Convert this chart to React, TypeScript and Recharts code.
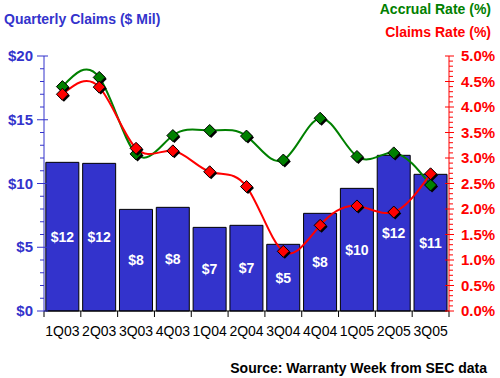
import React from 'react';
import {
  ComposedChart,
  Bar,
  Line,
  XAxis,
  YAxis,
  LabelList,
} from 'recharts';

const quarters = ['1Q03', '2Q03', '3Q03', '4Q03', '1Q04', '2Q04', '3Q04', '4Q04', '1Q05', '2Q05', '3Q05'];
const claimsMil = [11.66, 11.58, 7.97, 8.13, 6.56, 6.72, 5.23, 7.66, 9.62, 12.21, 10.72];
const claimsRate = [4.25, 4.39, 3.19, 3.14, 2.73, 2.44, 1.17, 1.68, 2.06, 1.94, 2.69];
const accrualRate = [4.4, 4.58, 3.08, 3.44, 3.54, 3.43, 2.96, 3.78, 3.03, 3.1, 2.47];

const leftTicks = [0, 1, 2, 3, 4, 5, 6, 7, 8, 9, 10, 11, 12, 13, 14, 15, 16, 17, 18, 19, 20];
const rightTicks = Array.from({ length: 51 }, (_, i) => i / 10);

const BLUE = '#3333CC';
const GREEN = '#008000';
const RED = '#FF0000';
const SANS = 'Liberation Sans, Arial, sans-serif';
const NARROW = 'Liberation Sans Narrow, Arial Narrow, Liberation Sans, sans-serif';

const W = 500;
const H = 378;
const LEFT_W = 44;
const RIGHT_W = 51;
const BAND = (W - LEFT_W - RIGHT_W) / quarters.length;

const data = quarters.map((q, i) => ({
  q,
  claims: claimsMil[i],
  claimsRate: claimsRate[i],
  accrual: accrualRate[i],
}));

const LeftTick = ({ x, y, payload }: any) => {
  const v = payload.value;
  const major = v % 5 === 0;
  return (
    <g>
      <line x1={major ? x - 7 : x - 4} x2={major ? x + 4 : x} y1={y} y2={y} stroke={BLUE} />
      {major && (
        <text x={x - 11} y={y} dy={5} textAnchor="end" fill={BLUE} fontSize={15} fontWeight="bold" fontFamily={SANS}>
          ${v}
        </text>
      )}
    </g>
  );
};

const RightTick = ({ x, y, payload }: any) => {
  const v = payload.value;
  const major = Math.round(v * 10) % 5 === 0;
  return (
    <g>
      <line x1={major ? x - 4 : x} x2={major ? x + 5 : x + 4} y1={y} y2={y} stroke={RED} />
      {major && (
        <text x={x + 12} y={y} dy={5} textAnchor="start" fill={RED} fontSize={15} fontWeight="bold" fontFamily={SANS}>
          {v.toFixed(1)}%
        </text>
      )}
    </g>
  );
};

const XTick = ({ x, y, payload, index }: any) => {
  const left = x - BAND / 2;
  const right = x + BAND / 2;
  return (
    <g>
      <line x1={left} x2={left} y1={y} y2={y + 6} stroke="#000" />
      {index === quarters.length - 1 && <line x1={right} x2={right} y1={y} y2={y + 6} stroke="#000" />}
      <text x={x} y={y + 25} textAnchor="middle" fill="#000" fontSize={14} fontFamily={NARROW}>
        {payload.value}
      </text>
    </g>
  );
};

// diamond marker with a little black drop shadow
const diamond = (fill: string) => (props: any) => {
  const { cx, cy, index } = props;
  if (cx == null || cy == null) return <g key={index} />;
  const r = 6;
  const pts = (dx: number, dy: number) =>
    `${cx + dx},${cy + dy - r} ${cx + dx + r},${cy + dy} ${cx + dx},${cy + dy + r} ${cx + dx - r},${cy + dy}`;
  return (
    <g key={index}>
      <polygon points={pts(1.5, 1.5)} fill="#000" />
      <polygon points={pts(0, 0)} fill={fill} stroke="#000" strokeWidth={1} />
    </g>
  );
};

export default function App() {
  return (
    <div style={{ position: 'absolute', left: 0, top: 0, width: W, height: H, background: '#fff' }}>
      <div
        style={{
          position: 'absolute', left: 4, top: 11, color: BLUE, fontFamily: SANS,
          fontWeight: 'bold', fontSize: 14, lineHeight: '16px', whiteSpace: 'nowrap',
        }}
      >
        Quarterly Claims ($ Mil)
      </div>
      <div
        style={{
          position: 'absolute', right: 9, top: 1, color: GREEN, fontFamily: SANS,
          fontWeight: 'bold', fontSize: 14, lineHeight: '16px', whiteSpace: 'nowrap',
        }}
      >
        Accrual Rate (%)
      </div>
      <div
        style={{
          position: 'absolute', right: 9, top: 24, color: RED, fontFamily: SANS,
          fontWeight: 'bold', fontSize: 14, lineHeight: '16px', whiteSpace: 'nowrap',
        }}
      >
        Claims Rate (%)
      </div>
      <div
        style={{
          position: 'absolute', right: 13, top: 360, color: '#000', fontFamily: SANS,
          fontWeight: 'bold', fontSize: 14, lineHeight: '16px', whiteSpace: 'nowrap',
        }}
      >
        Source: Warranty Week from SEC data
      </div>
      <ComposedChart
        width={W}
        height={H}
        data={data}
        margin={{ top: 56, right: 0, bottom: 37, left: 0 }}
        barCategoryGap="5%"
      >
        <XAxis
          dataKey="q"
          height={30}
          interval={0}
          tickSize={0}
          tickMargin={0}
          tickLine={false}
          axisLine={{ stroke: '#000' }}
          tick={(p: any) => <XTick {...p} />}
        />
        <YAxis
          yAxisId="l"
          width={LEFT_W}
          domain={[0, 20]}
          ticks={leftTicks}
          interval={0}
          tickSize={0}
          tickMargin={0}
          tickLine={false}
          axisLine={{ stroke: BLUE }}
          tick={(p: any) => <LeftTick {...p} />}
        />
        <YAxis
          yAxisId="r"
          orientation="right"
          width={RIGHT_W}
          domain={[0, 5]}
          ticks={rightTicks}
          interval={0}
          tickSize={0}
          tickMargin={0}
          tickLine={false}
          axisLine={{ stroke: RED }}
          tick={(p: any) => <RightTick {...p} />}
        />
        <Bar yAxisId="l" dataKey="claims" fill={BLUE} stroke="#000" strokeWidth={1} isAnimationActive={false}>
          <LabelList
            dataKey="claims"
            position="center"
            fill="#fff"
            fontSize={14}
            fontWeight="bold"
            fontFamily={NARROW}
            formatter={(v: any) => `$${Math.round(v)}`}
          />
        </Bar>
        <Line
          yAxisId="r"
          type="natural"
          dataKey="accrual"
          stroke={GREEN}
          strokeWidth={2}
          dot={diamond(GREEN)}
          activeDot={false}
          isAnimationActive={false}
        />
        <Line
          yAxisId="r"
          type="natural"
          dataKey="claimsRate"
          stroke={RED}
          strokeWidth={2}
          dot={diamond(RED)}
          activeDot={false}
          isAnimationActive={false}
        />
      </ComposedChart>
    </div>
  );
}
